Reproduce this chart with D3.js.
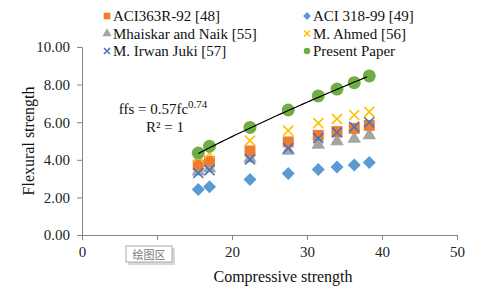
<!DOCTYPE html>
<html><head><meta charset="utf-8">
<script src="https://cdn.jsdelivr.net/npm/d3@7"></script>
<style>
body{margin:0;background:#fff}svg{display:block}
svg text{font-family:'Liberation Serif' !important}
svg text.cjk{font-family:'Noto Sans CJK SC' !important}
</style>
</head><body>
<svg id="c" width="480" height="297" font-family="Liberation Serif"></svg>
<script>
const fc = [15.5, 17.0, 22.4, 27.5, 31.5, 34.0, 36.3, 38.3];
const aci363 = [3.72, 3.92, 4.47, 4.95, 5.30, 5.50, 5.67, 5.83];
const aci318 = [2.42, 2.56, 2.95, 3.27, 3.49, 3.62, 3.73, 3.85];
const mhaiskar = [3.38, 3.55, 4.07, 4.48, 4.80, 4.98, 5.12, 5.30];
const ahmed = [4.15, 4.35, 5.02, 5.55, 5.95, 6.18, 6.38, 6.55];
const juki = [3.30, 3.45, 4.02, 4.62, 5.15, 5.45, 5.75, 6.00];
const present = [4.36, 4.72, 5.72, 6.65, 7.40, 7.76, 8.10, 8.46];
const xTicks = [0, 10, 20, 30, 40, 50];
const yTicks = [0, 2, 4, 6, 8, 10];
const legendItems = ["ACI363R-92 [48]", "ACI 318-99 [49]", "Mhaiskar and Naik [55]", "M. Ahmed [56]", "M. Irwan Juki [57]", "Present Paper"];
const fitA = 0.57, fitB = 0.74;

const svg = d3.select("#c");
const x = d3.scaleLinear().domain([0, 50]).range([82, 457]);
const y = d3.scaleLinear().domain([0, 10]).range([235, 47]);
const axisColor = "#868686";

// the "10" label is hidden under Excel's tooltip in the reference
const gx = svg.append("g").attr("transform", "translate(0,235)")
  .call(d3.axisBottom(x).tickValues(xTicks).tickFormat(d => d === 10 ? "" : d3.format("d")(d)).tickSize(5).tickPadding(6));
const gy = svg.append("g").attr("transform", "translate(82,0)")
  .call(d3.axisLeft(y).tickValues(yTicks).tickFormat(d3.format(".2f")).tickSize(5).tickPadding(7));
[gx, gy].forEach(g => {
  g.attr("font-family", "Liberation Serif").attr("font-size", 15);
  g.selectAll("path,line").attr("stroke", axisColor);
  g.selectAll("text").attr("fill", "#222");
});

svg.append("text").attr("x", 283).attr("y", 282).attr("text-anchor", "middle")
  .attr("font-size", 16).attr("fill", "#111").text("Compressive strength");
svg.append("text").attr("transform", "translate(34,141) rotate(-90)").attr("text-anchor", "middle")
  .attr("font-size", 16).attr("fill", "#111").text("Flexural strength");

const sym = (type, size) => d3.symbol().type(type).size(size)();
const plot = svg.append("g");
function drawSeries(vals, drawFn) {
  vals.forEach((v, i) => drawFn(plot, x(fc[i]), y(v)));
}
const triangle = (g, cx, cy, s = 1) => g.append("path").attr("d", sym(d3.symbolTriangle, 80 * s)).attr("transform", `translate(${cx},${cy})`).attr("fill", "#A5A5A5");
const square = (g, cx, cy, s = 1) => g.append("rect").attr("x", cx - 5.5 * s).attr("y", cy - 5.5 * s).attr("width", 11 * s).attr("height", 11 * s).attr("fill", "#ED7D31");
const diamond = (g, cx, cy, s = 1) => g.append("path").attr("d", `M0,${-6.5 * s}L${6.5 * s},0L0,${6.5 * s}L${-6.5 * s},0Z`).attr("transform", `translate(${cx},${cy})`).attr("fill", "#5B9BD5");
const cross = (color) => (g, cx, cy, s = 1) => g.append("path").attr("d", `M${-5 * s},${-5 * s}L${5 * s},${5 * s}M${-5 * s},${5 * s}L${5 * s},${-5 * s}`).attr("transform", `translate(${cx},${cy})`).attr("stroke", color).attr("stroke-width", 1.6).attr("fill", "none");
const circle = (g, cx, cy, s = 1) => g.append("circle").attr("cx", cx).attr("cy", cy).attr("r", 6.5 * s).attr("fill", "#70AD47");

drawSeries(mhaiskar, triangle);
drawSeries(aci363, square);
drawSeries(ahmed, cross("#FFC000"));
drawSeries(juki, cross("#4472C4"));
drawSeries(aci318, diamond);
drawSeries(present, circle);

// power trendline
const fitPts = d3.range(fc[0], fc[fc.length - 1] + 0.01, 0.5).map(v => [v, fitA * Math.pow(v, fitB)]);
plot.append("path").attr("d", d3.line().x(d => x(d[0])).y(d => y(d[1]))(fitPts))
  .attr("fill", "none").attr("stroke", "#000").attr("stroke-width", 1.2);

// equation
const eq = svg.append("text").attr("x", 163).attr("y", 114).attr("text-anchor", "middle")
  .attr("font-size", 15).attr("fill", "#111");
eq.append("tspan").text("ffs = 0.57fc");
eq.append("tspan").attr("dy", -6).attr("font-size", 11).text(String(fitB));
svg.append("text").attr("x", 165).attr("y", 132).attr("text-anchor", "middle")
  .attr("font-size", 15).attr("fill", "#111").text("R² = 1");

// legend
const legFns = [(g, cx, cy) => square(g, cx, cy, 0.6), (g, cx, cy) => diamond(g, cx, cy, 0.6),
  (g, cx, cy) => triangle(g, cx, cy, 0.45), (g, cx, cy) => cross("#FFC000")(g, cx, cy, 0.6),
  (g, cx, cy) => cross("#4472C4")(g, cx, cy, 0.6), (g, cx, cy) => circle(g, cx, cy, 0.5)];
const leg = svg.append("g");
legendItems.forEach((t, i) => {
  const col = i % 2, row = Math.floor(i / 2);
  const lx = col === 0 ? 107 : 307, ly = 16 + row * 17.5;
  legFns[i](leg, lx, ly);
  leg.append("text").attr("x", lx + 6).attr("y", ly + 5)
    .attr("font-size", 15).attr("fill", "#111").text(t);
});

// Excel "plot area" tooltip
const tip = svg.append("g");
tip.append("rect").attr("x", 128).attr("y", 248).attr("width", 47).attr("height", 17).attr("fill", "#d8d8d8");
tip.append("rect").attr("x", 126).attr("y", 246).attr("width", 46).attr("height", 16).attr("fill", "#fff").attr("stroke", "#aaa");
tip.append("text").attr("class", "cjk").attr("x", 149).attr("y", 258.5).attr("text-anchor", "middle").attr("font-size", 11).attr("fill", "#777").text("绘图区");
</script>
</body></html>
